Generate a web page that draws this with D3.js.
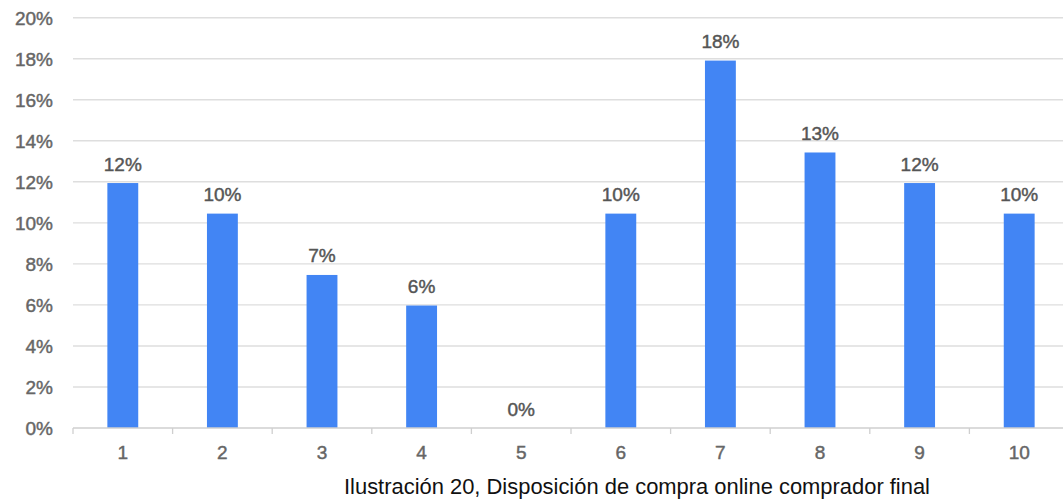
<!DOCTYPE html>
<html>
<head>
<meta charset="utf-8">
<script src="https://cdn.jsdelivr.net/npm/d3@7"></script>
<style>
  html, body { margin: 0; padding: 0; background: #fff; }
  svg { display: block; }
  .lbl { stroke-width: 0.45px; paint-order: fill; }
</style>
</head>
<body>
<svg id="chart" width="1063" height="504"></svg>
<script>
// Share of respondents (%) for each rating, 1–10
const categories = ["1", "2", "3", "4", "5", "6", "7", "8", "9", "10"];
const shares = [11.94, 10.45, 7.46, 5.97, 0, 10.45, 17.91, 13.43, 11.94, 10.45];
const yTicks = [0, 2, 4, 6, 8, 10, 12, 14, 16, 18, 20];
const caption = "Ilustración 20, Disposición de compra online comprador final";

const svg = d3.select("#chart");
const plotLeft = 73, plotRight = 1069, plotTop = 17.7, plotBottom = 428;

const x = d3.scaleBand()
  .domain(categories)
  .range([plotLeft, plotRight])
  .paddingInner(0.69)
  .paddingOuter(0.345);

const y = d3.scaleLinear().domain([0, 20]).range([plotBottom, plotTop]);
const pct = d3.format(".0%");

// horizontal gridlines
svg.append("g")
  .selectAll("line")
  .data(yTicks.filter(d => d > 0))
  .join("line")
  .attr("x1", plotLeft).attr("x2", 1063)
  .attr("y1", d => y(d)).attr("y2", d => y(d))
  .attr("stroke", "#dedede")
  .attr("stroke-width", 1.4);

// y-axis labels
svg.append("g")
  .selectAll("text")
  .data(yTicks)
  .join("text")
  .attr("class", "lbl")
  .attr("x", 53)
  .attr("y", d => y(d))
  .attr("dy", "0.36em")
  .attr("text-anchor", "end")
  .attr("font-family", "Liberation Sans, Arial, sans-serif")
  .attr("font-size", 19)
  .attr("fill", "#666")
  .attr("stroke", "#666")
  .text(d => d + "%");

// bars
svg.append("g")
  .selectAll("rect")
  .data(shares)
  .join("rect")
  .attr("x", (d, i) => x(categories[i]))
  .attr("width", x.bandwidth())
  .attr("y", d => y(d))
  .attr("height", d => y(0) - y(d))
  .attr("fill", "#4285f4");

// value labels above bars
svg.append("g")
  .selectAll("text")
  .data(shares)
  .join("text")
  .attr("class", "lbl")
  .attr("x", (d, i) => x(categories[i]) + x.bandwidth() / 2)
  .attr("y", d => y(d) - 12.5)
  .attr("text-anchor", "middle")
  .attr("font-family", "Liberation Sans, Arial, sans-serif")
  .attr("font-size", 19)
  .attr("fill", "#555")
  .attr("stroke", "#555")
  .text(d => pct(d / 100));

// baseline and category tick marks
svg.append("line")
  .attr("x1", plotLeft).attr("x2", 1063)
  .attr("y1", y(0)).attr("y2", y(0))
  .attr("stroke", "#cfcfcf")
  .attr("stroke-width", 1.5);

const boundaries = d3.range(categories.length + 1).map(i => plotLeft + i * x.step());
svg.append("g")
  .selectAll("line")
  .data(boundaries)
  .join("line")
  .attr("x1", d => d).attr("x2", d => d)
  .attr("y1", y(0)).attr("y2", y(0) + 6)
  .attr("stroke", "#cfcfcf")
  .attr("stroke-width", 1.3);

// category labels
svg.append("g")
  .selectAll("text")
  .data(categories)
  .join("text")
  .attr("class", "lbl")
  .attr("x", d => x(d) + x.bandwidth() / 2)
  .attr("y", 459)
  .attr("text-anchor", "middle")
  .attr("font-family", "Liberation Sans, Arial, sans-serif")
  .attr("font-size", 19)
  .attr("fill", "#666")
  .attr("stroke", "#666")
  .text(d => d);

// caption
svg.append("text")
  .attr("x", 344)
  .attr("y", 493.5)
  .attr("font-family", "Liberation Sans Narrow, Arial Narrow, Liberation Sans, sans-serif")
  .attr("font-size", 21.5)
  .attr("fill", "#111")
  .attr("textLength", 586)
  .attr("lengthAdjust", "spacingAndGlyphs")
  .text(caption);
</script>
</body>
</html>
